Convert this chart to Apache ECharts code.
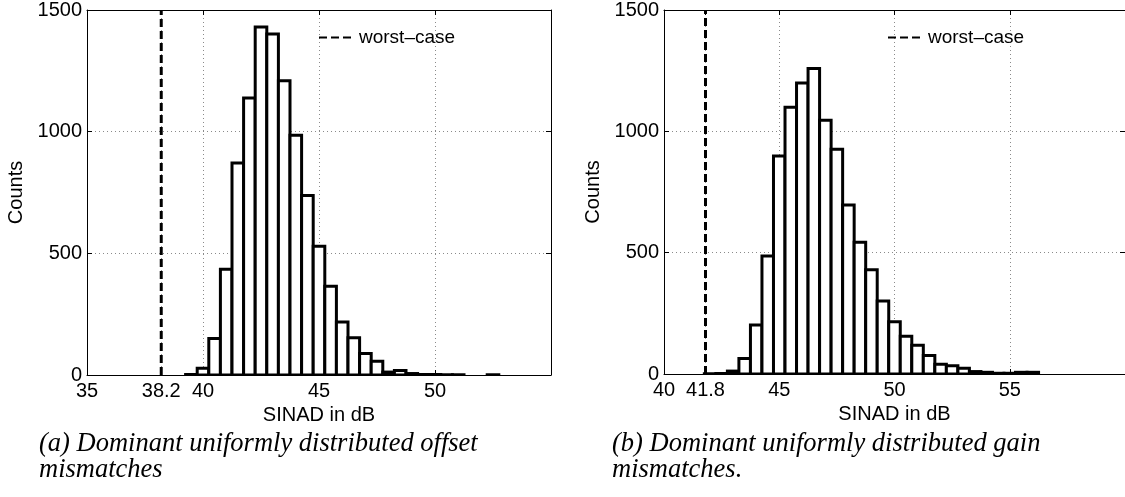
<!DOCTYPE html>
<html>
<head>
<meta charset="utf-8">
<script src="https://cdn.jsdelivr.net/npm/echarts@6/dist/echarts.min.js"></script>
<style>
html,body{margin:0;padding:0;background:#fff;}
#chart{width:1125px;height:497px;}
</style>
</head>
<body>
<div id="chart"></div>
<script>
// ---- data ----
const legendName = 'worst–case';
const xName = 'SINAD in dB';
const yName = 'Counts';
const captionA = '(a) Dominant uniformly distributed offset\nmismatches';
const captionB = '(b) Dominant uniformly distributed gain\nmismatches.';

const xTicksA = [35, 38.2, 40, 45, 50];
const xTicksB = [40, 41.8, 45, 50, 55];
const xRangeA = [35, 55];
const xRangeB = [40, 60];
const yRange = [0, 1500];
const yStep = 500;
const worstA = 38.2;
const worstB = 41.8;
const binWidth = 0.5;

const binCentersA = [39.5, 40.0, 40.5, 41.0, 41.5, 42.0, 42.5, 43.0, 43.5, 44.0, 44.5, 45.0, 45.5, 46.0, 46.5, 47.0, 47.5, 48.0, 48.5, 49.0, 49.5, 50.0, 50.5, 51.0, 52.5];
const countsA     = [2,    28,   150,  435,  871,  1138, 1430, 1401, 1209, 985,  738,  529,  365,  218,  153,  88,   56,   12,   18,   6,    2,    2,    1,    1,    1];

const binCentersB = [42.0, 42.5, 43.0, 43.5, 44.0, 44.5, 45.0, 45.5, 46.0, 46.5, 47.0, 47.5, 48.0, 48.5, 49.0, 49.5, 50.0, 50.5, 51.0, 51.5, 52.0, 52.5, 53.0, 53.5, 54.0, 54.5, 55.0, 55.5, 56.0];
const countsB     = [1,    2,    12,   64,   202,  486,  898,  1099, 1199, 1259, 1046, 926,  696,  543,  430,  301,  215,  156,  118,  76,   40,   34,   24,   10,   7,    3,    3,    7,    7];

// ---- chart ----
const FONT = 'Liberation Sans';
const chart = echarts.init(document.getElementById('chart'), null, {renderer: 'canvas'});

function pairs(xs, ys) { return xs.map((x, i) => [x, ys[i]]); }

function renderBin(params, api) {
  const c = api.value(0), v = api.value(1);
  const p0 = api.coord([c - binWidth / 2, v]);
  const p1 = api.coord([c + binWidth / 2, 0]);
  return {
    type: 'rect',
    shape: {x: p0[0], y: p0[1], width: p1[0] - p0[0], height: p1[1] - p0[1]},
    style: {fill: '#fff', stroke: '#000', lineWidth: 3}
  };
}

const gridLine = {show: true, lineStyle: {color: '#8a8a8a', width: 1, type: [1, 3]}};
const tickStyle = {color: '#000', width: 1};

function xAxes(gi, range, ticks) {
  return [
    {
      gridIndex: gi, type: 'value', min: range[0], max: range[1], position: 'bottom',
      axisLine: {show: true, onZero: false, lineStyle: {color: '#000', width: 1}},
      axisTick: {show: true, inside: true, length: 5, customValues: ticks, lineStyle: tickStyle},
      axisLabel: {show: true, customValues: ticks, color: '#000', fontFamily: FONT, fontSize: 20, margin: 6,
                  formatter: v => String(v)},
      splitLine: gridLine,
      name: xName, nameLocation: 'middle', nameGap: 24,
      nameTextStyle: {color: '#000', fontFamily: FONT, fontSize: 20}
    },
    {
      gridIndex: gi, type: 'value', min: range[0], max: range[1], position: 'top',
      axisLine: {show: true, onZero: false, lineStyle: {color: '#000', width: 1}},
      axisTick: {show: true, inside: true, length: 5, customValues: ticks, lineStyle: tickStyle},
      axisLabel: {show: false}, splitLine: {show: false}
    }
  ];
}

function yAxes(gi) {
  return [
    {
      gridIndex: gi, type: 'value', min: yRange[0], max: yRange[1], interval: yStep, position: 'left',
      axisLine: {show: true, lineStyle: {color: '#000', width: 1}},
      axisTick: {show: true, inside: true, length: 5, lineStyle: tickStyle},
      axisLabel: {color: '#000', fontFamily: FONT, fontSize: 20, margin: 5, formatter: v => String(v)},
      splitLine: gridLine,
      name: yName, nameLocation: 'middle', nameGap: 61,
      nameTextStyle: {color: '#000', fontFamily: FONT, fontSize: 20}
    },
    {
      gridIndex: gi, type: 'value', min: yRange[0], max: yRange[1], interval: yStep, position: 'right',
      axisLine: {show: true, lineStyle: {color: '#000', width: 1}},
      axisTick: {show: true, inside: true, length: 5, lineStyle: tickStyle},
      axisLabel: {show: false}, splitLine: {show: false}
    }
  ];
}

const worstLineStyle = {color: '#000', width: 3, type: [8, 4]};

const legendBase = {
  data: [legendName], itemWidth: 32, itemHeight: 14, selectedMode: false,
  itemStyle: {color: 'rgba(0,0,0,0)', borderWidth: 0, opacity: 0},
  textStyle: {color: '#000', fontFamily: FONT, fontSize: 19, padding: [0, 0, 0, 3]}
};

const captionStyle = {color: '#000', fontFamily: 'Liberation Serif', fontStyle: 'italic', fontWeight: 'normal', fontSize: 26.5, lineHeight: 26};

chart.setOption({
  animation: false,
  backgroundColor: '#fff',
  title: [
    {text: captionA, left: 39, top: 431, padding: 0, textStyle: captionStyle},
    {text: captionB, left: 612, top: 431, padding: 0, textStyle: captionStyle}
  ],
  legend: [
    Object.assign({left: 313, top: 23}, legendBase),
    Object.assign({left: 882, top: 23}, legendBase)
  ],
  grid: [
    {left: 87, top: 9, width: 464, height: 366},
    {left: 664, top: 8, width: 464, height: 366}
  ],
  xAxis: [].concat(xAxes(0, xRangeA, xTicksA), xAxes(1, xRangeB, xTicksB)),
  yAxis: [].concat(yAxes(0), yAxes(1)),
  series: [
    {type: 'custom', xAxisIndex: 0, yAxisIndex: 0, renderItem: renderBin, data: pairs(binCentersA, countsA), clip: true, z: 2},
    {type: 'custom', xAxisIndex: 2, yAxisIndex: 2, renderItem: renderBin, data: pairs(binCentersB, countsB), clip: true, z: 2},
    {type: 'line', name: legendName, xAxisIndex: 0, yAxisIndex: 0, data: [[worstA, yRange[0]], [worstA, yRange[1]]],
     symbol: 'none', lineStyle: worstLineStyle, itemStyle: {color: '#000'}, z: 3},
    {type: 'line', name: legendName, xAxisIndex: 2, yAxisIndex: 2, data: [[worstB, yRange[0]], [worstB, yRange[1]]],
     symbol: 'none', lineStyle: worstLineStyle, itemStyle: {color: '#000'}, z: 3}
  ]
});
</script>
</body>
</html>
